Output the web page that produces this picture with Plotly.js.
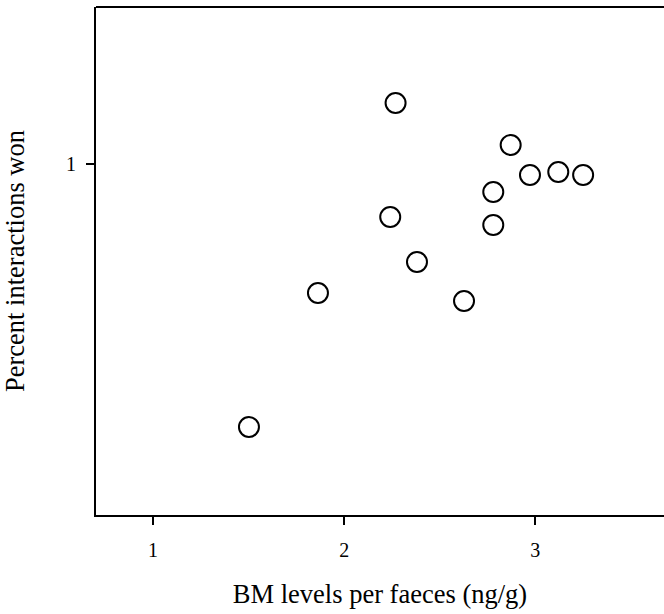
<!DOCTYPE html>
<html>
<head>
<meta charset="utf-8">
<script src="https://cdn.plot.ly/plotly-3.0.1.min.js"></script>
<style>
html,body{margin:0;padding:0;overflow:hidden;background:#fff;}
#chart{width:664px;height:614px;}
</style>
</head>
<body>
<div id="chart"></div>
<script>
const bmLevels = [1.502, 1.863, 2.241, 2.269, 2.381, 2.627, 2.780, 2.780, 2.871, 2.972, 3.120, 3.250];
const percentWon = [0.3425, 0.6775, 0.8675, 1.1525, 0.755, 0.6575, 0.93, 0.8475, 1.0475, 0.9725, 0.98, 0.9725];
const xTicks = [1, 2, 3];
const yTicks = [1];

const font = "'Liberation Serif', 'Times New Roman', serif";

Plotly.newPlot('chart', [{
  x: bmLevels,
  y: percentWon,
  type: 'scatter',
  mode: 'markers',
  marker: {symbol: 'circle-open', size: 20, color: '#000', line: {width: 2, color: '#000'}},
  hoverinfo: 'skip'
}], {
  width: 664, height: 614,
  margin: {l: 96, r: 0, t: 7, b: 99},
  paper_bgcolor: '#fff', plot_bgcolor: '#fff',
  showlegend: false,
  font: {family: font, color: '#000'},
  shapes: [
    {type: 'rect', xref: 'paper', yref: 'paper', x0: 0.985, x1: 1.02, y0: 0.004, y1: 0.996,
     fillcolor: '#fff', line: {width: 0}, layer: 'above'},
    {type: 'line', xref: 'paper', yref: 'paper', x0: 0, x1: 1.02, y0: 1, y1: 1,
     line: {color: '#000', width: 2}, layer: 'above'}
  ],
  xaxis: {
    range: [0.702, 3.673],
    tickvals: xTicks, ticktext: xTicks.map(String),
    ticks: 'outside', ticklen: 8, tickwidth: 2, tickcolor: '#000',
    showline: true, linewidth: 2, linecolor: '#000', mirror: false,
    showgrid: false, zeroline: false,
    tickfont: {size: 20, family: font},
    ticklabelstandoff: 8,
    title: {text: 'BM levels per faeces (ng/g)', font: {size: 26.5, family: font}, standoff: 24}
  },
  yaxis: {
    range: [0.1225, 1.3925],
    tickvals: yTicks, ticktext: yTicks.map(String),
    ticks: 'outside', ticklen: 8, tickwidth: 2, tickcolor: '#000',
    showline: true, linewidth: 2, linecolor: '#000', mirror: false,
    showgrid: false, zeroline: false,
    tickfont: {size: 20, family: font},
    ticklabelstandoff: 6,
    title: {text: 'Percent interactions won', font: {size: 26.5, family: font}, standoff: 40}
  }
}, {staticPlot: true, displayModeBar: false});
</script>
</body>
</html>
